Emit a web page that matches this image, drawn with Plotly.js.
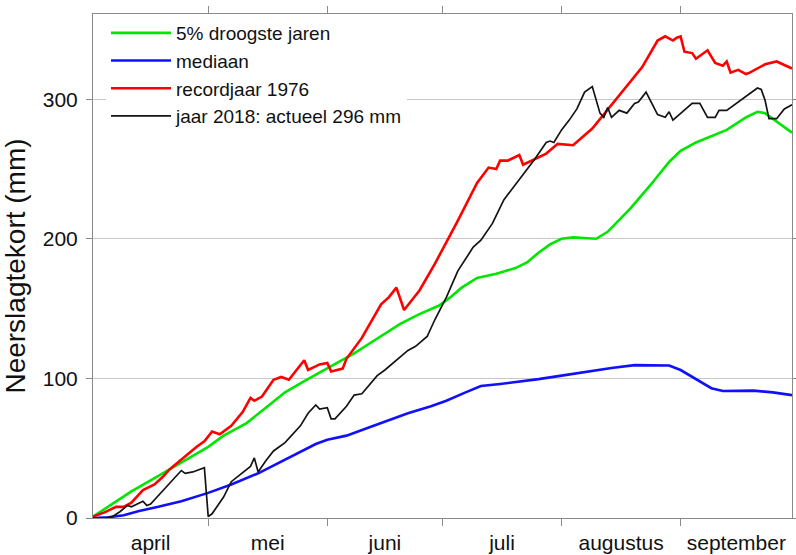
<!DOCTYPE html>
<html>
<head>
<meta charset="utf-8">
<script src="https://cdn.plot.ly/plotly-3.0.1.min.js"></script>
<style>
  html, body { margin: 0; padding: 0; background: #ffffff; }
  #chart { width: 796px; height: 555px; }
</style>
</head>
<body>
<div id="chart"></div>
<script>
// Days since 1 April (day 0 = 1 april, day 182 = 30 september)
const monthLabels = ["april", "mei", "juni", "juli", "augustus", "september"];
const monthCenters = [15, 45.5, 76, 106.5, 137.5, 167.5];
const monthStarts = [30, 61, 91, 122, 153];

const seriesNames = ["5% droogste jaren", "mediaan", "recordjaar 1976", "jaar 2018: actueel 296 mm"];

// 5% droogste jaren
const dryDays = [0, 5, 10, 15, 20, 25, 30, 34, 40, 45, 50, 55, 61, 65, 68, 72, 76, 80, 85, 90, 93, 96, 100, 105, 110, 113, 116, 119, 122, 125, 131, 134, 140, 145, 150, 153, 157, 165, 170, 173, 175, 182];
const dryVals = [1, 10, 19, 27, 35, 43, 51, 59, 68, 79, 90, 98, 107, 113, 118, 125, 132, 139, 146, 152, 158, 165, 172, 175, 179, 183, 190, 196, 200, 201, 200, 205, 222, 238, 255, 263, 269, 278, 287, 291, 290, 276];

// mediaan
const medDays = [0, 4, 8, 12, 17, 23, 30, 36, 43, 48, 53, 58, 61, 66, 72, 77, 82, 88, 92, 97, 101, 106, 111, 116, 122, 129, 135, 141, 150, 153, 156, 158, 161, 164, 172, 177, 182];
const medVals = [0, 0.5, 2, 5, 8, 12, 18, 24, 32, 39, 46, 53, 56, 59, 65, 70, 75, 80, 84, 90, 94.5, 96, 97.5, 99.5, 102, 105, 107.5, 109.5, 109.2, 106, 101, 97.5, 93, 91, 91.2, 90, 88];

// recordjaar 1976
const recDays = [0, 3, 6, 8, 10, 13, 16, 18, 20, 23, 27, 29, 31, 33, 36, 39, 41, 42, 44, 47, 49, 51, 55, 56, 59, 61, 62, 65, 66, 70, 75, 77, 79, 81, 85, 89, 95, 100, 103, 105, 106, 108, 110, 111, 112, 115, 118, 121, 125, 130, 136, 143, 147, 149, 151, 152, 153, 154, 156, 157, 160, 162, 164, 165, 166, 168, 170, 171, 175, 178, 182];
const recVals = [1, 4, 8, 8, 11, 20, 24, 29, 35, 42, 51, 55, 62, 60, 66, 76, 86, 84, 87, 99, 101, 99, 113, 106, 110, 111, 105, 107, 114, 129, 153, 158, 165, 149, 163, 182, 213, 240, 251, 250, 256, 256, 259, 260, 253, 257, 261, 268, 267, 279, 299, 323, 342, 345, 342, 344, 345, 334, 333, 329, 335, 326, 324, 327, 319, 321, 318, 319, 325, 327, 322];

// jaar 2018
const curDays = [0, 3, 5, 7, 9, 10, 13, 14, 15, 19, 22, 23, 24, 26, 29, 30, 31, 34, 36, 39, 41, 42, 43, 45, 47, 50, 52, 54, 56, 58, 59, 61, 62, 63, 66, 68, 70, 73, 74, 76, 79, 82, 84, 87, 89, 92, 95, 99, 101, 104, 107, 112, 115, 118, 119, 120, 122, 124, 126, 128, 130, 132, 133, 134, 135, 137, 139, 141, 142, 144, 145, 147, 149, 150, 151, 153, 156, 158, 160, 162, 163, 165, 167, 170, 173, 174, 175, 176, 178, 180, 182];
const curVals = [0, 0, 1, 4.5, 9, 8, 12, 9, 10, 22, 31, 34, 32, 33, 36, 1, 3, 15, 26, 33, 37, 43, 33, 41, 48, 54, 60, 66, 75, 81, 78, 79, 71, 71, 80, 88, 89, 99, 102, 106, 113, 120, 123, 130, 142, 158, 177, 194, 199, 211, 228, 246, 257, 269, 270, 269, 278, 285, 293, 305, 309, 290, 287, 294, 287, 292, 290, 297, 298, 305, 300, 289, 287, 291, 285, 290, 297, 297, 287, 287, 292, 292, 296, 302, 308, 307, 299, 286, 286, 293, 296];

const colors = ["#00e600", "#1010ff", "#ff0000", "#141414"];
const widths = [2.6, 2.6, 2.6, 1.7];
const xs = [dryDays, medDays, recDays, curDays];
const ys = [dryVals, medVals, recVals, curVals];

const traces = seriesNames.map((name, i) => ({
  type: "scatter",
  mode: "lines",
  name: name,
  x: xs[i],
  y: ys[i],
  line: { color: colors[i], width: widths[i] },
  hoverinfo: "skip"
}));

const axisColor = "#8a8a8a";

const layout = {
  width: 796,
  height: 555,
  margin: { l: 93, r: 4, t: 14, b: 37, pad: 0 },
  paper_bgcolor: "#ffffff",
  plot_bgcolor: "#ffffff",
  font: { family: "Liberation Sans, Arial, sans-serif", color: "#111111" },
  showlegend: true,
  legend: {
    x: 0.0186, xanchor: "left",
    y: 1.0, yanchor: "top",
    bgcolor: "#ffffff",
    borderwidth: 0,
    font: { size: 19, color: "#111111" },
    itemwidth: 60,
    traceorder: "normal"
  },
  xaxis: {
    range: [0, 182],
    tickmode: "array",
    tickvals: monthCenters,
    ticktext: monthLabels,
    ticks: "",
    tickfont: { size: 21, color: "#111111" },
    ticklabelstandoff: 6,
    showgrid: false,
    zeroline: false,
    showline: true,
    linecolor: axisColor,
    linewidth: 1,
    mirror: "ticks",
    minor: {
      tickmode: "array",
      tickvals: monthStarts,
      ticks: "outside",
      ticklen: 7,
      tickwidth: 1,
      tickcolor: axisColor,
      showgrid: false
    },
    fixedrange: true
  },
  yaxis: {
    range: [0, 361],
    tickmode: "array",
    tickvals: [0, 100, 200, 300],
    ticks: "outside",
    ticklen: 6,
    tickwidth: 1,
    tickcolor: axisColor,
    tickfont: { size: 21, color: "#111111" },
    ticklabelstandoff: 4,
    showgrid: true,
    gridcolor: "#c8c8c8",
    gridwidth: 1,
    zeroline: false,
    showline: true,
    linecolor: axisColor,
    linewidth: 1,
    mirror: "ticks",
    title: { text: "Neerslagtekort (mm)", font: { size: 28, color: "#111111" }, standoff: 10 },
    fixedrange: true
  },
  hovermode: false
};

Plotly.newPlot("chart", traces, layout, { displayModeBar: false, staticPlot: true });
</script>
</body>
</html>
